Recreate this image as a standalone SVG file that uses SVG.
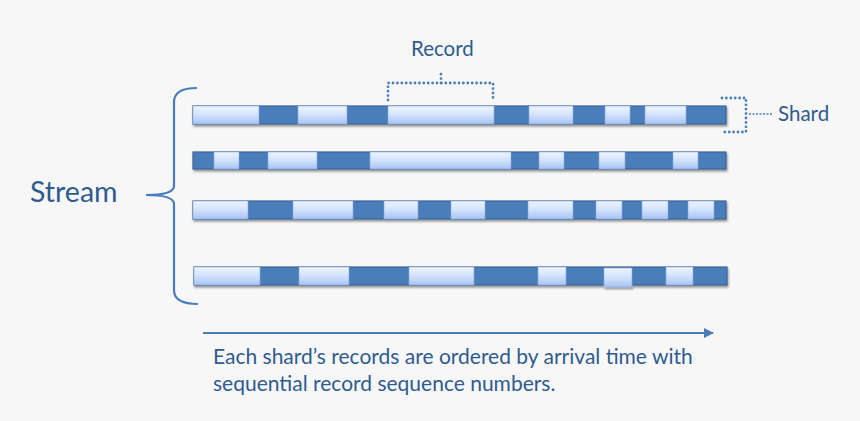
<svg xmlns="http://www.w3.org/2000/svg" width="860" height="421" viewBox="0 0 860 421">
<defs>
<linearGradient id="lg" x1="0" y1="0" x2="0" y2="1">
<stop offset="0" stop-color="#eef4ff"/>
<stop offset="0.5" stop-color="#d2e2fd"/>
<stop offset="1" stop-color="#a7c3f4"/>
</linearGradient>
<filter id="sh" x="-5%" y="-30%" width="110%" height="180%">
<feGaussianBlur in="SourceAlpha" stdDeviation="1.2"/>
<feOffset dx="1" dy="2" result="b"/>
<feComponentTransfer><feFuncA type="linear" slope="0.4"/></feComponentTransfer>
<feMerge><feMergeNode/><feMergeNode in="SourceGraphic"/></feMerge>
</filter>
<marker id="ah" viewBox="0 0 10 10" refX="9" refY="5" markerWidth="10" markerHeight="10" markerUnits="userSpaceOnUse" orient="auto">
<path d="M0,0 L10,5 L0,10 z" fill="#4a7ebb"/>
</marker>
<style>
.bar{fill:#4a7ebb;stroke:#3a6394;stroke-width:1.2}
.rec{fill:url(#lg);stroke:#8aa8d8;stroke-width:0.6}
.lbl{font-family:Lato,"Open Sans","Liberation Sans",sans-serif;fill:#2f5b8f}
.dot{fill:none;stroke:#4a7ebb;stroke-width:2.8;stroke-linecap:round;stroke-dasharray:0 4.4}
</style>
</defs>
<rect width="860" height="421" fill="#f7f7f7"/>

<g id="shard1" filter="url(#sh)">
<rect class="bar" x="193" y="106" width="533" height="18"/>
<rect class="rec" x="193" y="106" width="66" height="18"/>
<rect class="rec" x="298" y="106" width="49" height="18"/>
<rect class="rec" x="388" y="106" width="106" height="18"/>
<rect class="rec" x="529" y="106" width="44" height="18"/>
<rect class="rec" x="605" y="106" width="25" height="18"/>
<rect class="rec" x="645" y="106" width="41" height="18"/>
</g>
<g id="shard2" filter="url(#sh)">
<rect class="bar" x="193" y="152" width="533" height="17"/>
<rect class="rec" x="214" y="152" width="25" height="17"/>
<rect class="rec" x="268" y="152" width="49" height="17"/>
<rect class="rec" x="370" y="152" width="141" height="17"/>
<rect class="rec" x="539" y="152" width="25" height="17"/>
<rect class="rec" x="599" y="152" width="26" height="17"/>
<rect class="rec" x="673" y="152" width="25" height="17"/>
</g>
<g id="shard3" filter="url(#sh)">
<rect class="bar" x="193" y="201" width="533" height="18"/>
<rect class="rec" x="193" y="201" width="55" height="18"/>
<rect class="rec" x="293" y="201" width="60" height="18"/>
<rect class="rec" x="384" y="201" width="34" height="18"/>
<rect class="rec" x="451" y="201" width="34" height="18"/>
<rect class="rec" x="528" y="201" width="45" height="18"/>
<rect class="rec" x="596" y="201" width="26" height="18"/>
<rect class="rec" x="642" y="201" width="26" height="18"/>
<rect class="rec" x="688" y="201" width="26" height="18"/>
</g>
<g id="shard4" filter="url(#sh)">
<rect class="bar" x="194" y="267" width="533" height="18"/>
<rect class="rec" x="194" y="267" width="66" height="18"/>
<rect class="rec" x="299" y="267" width="50" height="18"/>
<rect class="rec" x="409" y="267" width="65" height="18"/>
<rect class="rec" x="538" y="267" width="28" height="18"/>
<rect class="rec" x="604" y="268" width="28" height="19"/>
<rect class="rec" x="666" y="267" width="27" height="18"/>
</g>

<g id="connectors">
<path d="M197,88 Q174,88 174,102 L174,186 Q174,195 146,195 Q174,195 174,204 L174,290 Q174,304 198,304" fill="none" stroke="#4a7ebb" stroke-width="2.2"/>
<path class="dot" d="M388,100 L388,83 L493,83 L493,100 M441,83 L441,72"/>
<path class="dot" d="M722,98 L746,98 L746,132 L722,132"/>
<path d="M749,114 L772,114" stroke="#4a7ebb" stroke-width="1.6" stroke-dasharray="2 1.5"/>
<line x1="203" y1="333" x2="713" y2="333" stroke="#4a7ebb" stroke-width="2.2" marker-end="url(#ah)"/>
</g>

<g id="stream"><text class="lbl" x="30" y="202" font-size="28.5">Stream</text></g>
<g id="record"><text class="lbl" x="411" y="56" font-size="20.5">Record</text></g>
<g id="shard"><text class="lbl" x="778" y="121" font-size="20.5">Shard</text></g>
<g id="caption">
<text class="lbl" x="213" y="364" font-size="21">Each shard’s records are ordered by arrival time with</text>
<text class="lbl" x="213" y="391" font-size="21">sequential record sequence numbers.</text>
</g>
</svg>
